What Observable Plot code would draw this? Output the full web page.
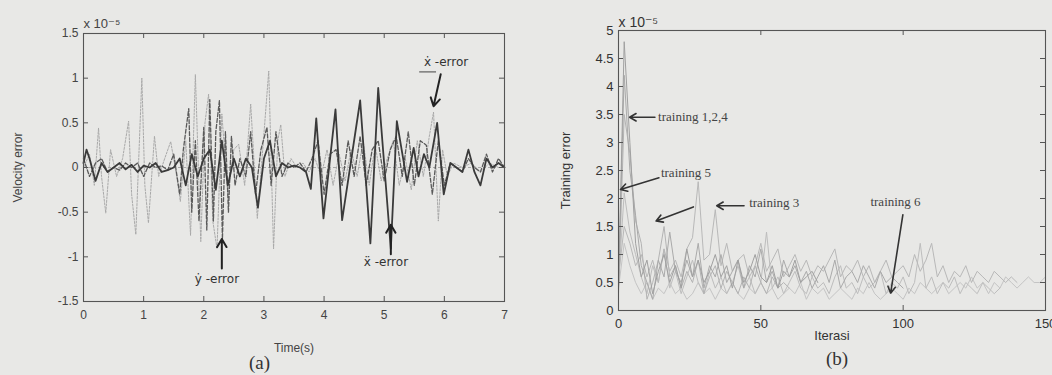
<!DOCTYPE html>
<html><head><meta charset="utf-8">
<script src="https://cdn.jsdelivr.net/npm/d3@7"></script>
<script src="https://cdn.jsdelivr.net/npm/@observablehq/plot@0.6"></script>
<style>
html,body{margin:0;padding:0;background:#e8e8e6;width:1052px;height:375px;overflow:hidden;position:relative;}
#a{position:absolute;left:0;top:0;width:530px;}
#b{position:absolute;left:520px;top:0;width:545px;}
#a svg,#b svg{max-width:none !important;}
.cap{position:absolute;font-family:"Liberation Serif","Times New Roman",serif;font-size:19px;color:#333;line-height:22px;}
</style></head><body>
<div id="a"></div><div id="b"></div>
<div class="cap" style="left:249px;top:352px">(a)</div>
<div class="cap" style="left:826px;top:348px">(b)</div>
<script>
// ---------- Panel (a) data ----------
const timeTicks = [0, 1, 2, 3, 4, 5, 6, 7];
const velTicks = [-1.5, -1, -0.5, 0, 0.5, 1, 1.5];
// x-double-dot error (dark solid)
const errXdd = [[0,0.05],[0.05,0.2],[0.1,0.1],[0.2,-0.15],[0.3,0.05],[0.4,-0.05],[0.5,0],[0.6,0.05],[0.7,-0.02],[0.8,0.03],[0.9,-0.05],[1.0,0.02],[1.1,0],[1.2,0.05],[1.3,-0.05],[1.4,-0.03],[1.5,0],[1.6,0.1],[1.7,-0.2],[1.8,0.15],[1.9,-0.1],[2.0,0.1],[2.1,0.2],[2.2,-0.25],[2.3,0.3],[2.4,-0.2],[2.5,0.1],[2.6,-0.1],[2.7,0.1],[2.8,0],[2.9,-0.45],[3.0,0.1],[3.1,0.3],[3.2,-0.1],[3.3,0.05],[3.4,0],[3.5,0.02],[3.6,0],[3.7,-0.05],[3.78,-0.24],[3.87,0.55],[3.99,-0.57],[4.19,0.65],[4.3,-0.59],[4.6,0.75],[4.77,-0.85],[4.9,0.89],[5.11,-0.91],[5.21,0.52],[5.38,-0.16],[5.49,0.22],[5.57,-0.1],[5.66,0.15],[5.75,0],[5.88,0.5],[5.99,-0.3],[6.1,0.05],[6.2,0],[6.3,-0.05],[6.4,0.2],[6.5,-0.05],[6.6,-0.2],[6.7,0.1],[6.8,0],[6.9,0.05],[7.0,0]];
// y-dot error (dark dashed)
const errYd = [[0,0.1],[0.1,-0.1],[0.2,0.05],[0.3,0.1],[0.4,-0.05],[0.5,0],[0.6,-0.03],[0.7,0.05],[0.8,0],[0.9,0.05],[1.0,-0.1],[1.1,0.05],[1.2,0],[1.3,0.02],[1.4,-0.03],[1.5,0.15],[1.6,-0.3],[1.66,0.2],[1.75,0.66],[1.8,-0.5],[1.86,0.3],[1.92,-0.6],[2.0,0.45],[2.05,-0.7],[2.1,0.76],[2.16,-0.6],[2.2,0.4],[2.26,0.75],[2.31,-0.8],[2.36,0.4],[2.41,-0.5],[2.46,0.35],[2.52,-0.2],[2.6,0.1],[2.7,-0.1],[2.78,0.4],[2.86,-0.3],[2.95,0.2],[3.05,0.45],[3.12,-0.2],[3.2,0.4],[3.3,-0.1],[3.4,0.05],[3.5,0],[3.6,0.05],[3.7,-0.05],[3.8,0.1],[3.9,0.3],[4.0,-0.3],[4.1,0.15],[4.2,0.2],[4.3,-0.2],[4.4,0.3],[4.5,-0.1],[4.6,0.35],[4.7,-0.2],[4.8,0.2],[4.9,0.3],[5.0,-0.15],[5.1,0.2],[5.2,0.35],[5.3,-0.1],[5.4,0.4],[5.5,-0.2],[5.6,0.3],[5.7,0.25],[5.8,-0.3],[5.9,0.3],[6.0,-0.2],[6.1,0.05],[6.2,0],[6.3,-0.05],[6.4,0.1],[6.5,0],[6.6,-0.05],[6.7,0.15],[6.8,-0.05],[6.9,0.1],[7.0,0]];
// x-dot error (light dashed)
const errXd = [[0,0],[0.1,0.15],[0.18,-0.2],[0.25,0.44],[0.3,-0.1],[0.37,-0.51],[0.45,0.2],[0.55,-0.1],[0.65,0.1],[0.75,0.52],[0.8,-0.3],[0.87,-0.75],[0.97,1.0],[1.02,-0.2],[1.08,-0.62],[1.18,0.35],[1.25,-0.1],[1.35,0.1],[1.45,0.29],[1.55,-0.1],[1.61,-0.38],[1.7,0.3],[1.78,-0.76],[1.86,1.04],[1.95,-0.83],[2.02,0.5],[2.08,0.82],[2.15,-0.6],[2.22,-0.91],[2.3,0.6],[2.4,-0.3],[2.5,0.2],[2.58,0.26],[2.68,-0.2],[2.78,0.71],[2.89,-0.57],[2.98,0.2],[3.08,1.08],[3.16,-0.91],[3.23,0.3],[3.28,0.48],[3.35,-0.1],[3.45,0.1],[3.55,0],[3.65,0.05],[3.75,-0.05],[3.85,0.1],[3.95,-0.1],[4.05,0.2],[4.15,-0.2],[4.25,0.15],[4.35,-0.15],[4.45,0.2],[4.55,-0.1],[4.65,0.3],[4.75,-0.2],[4.85,0.25],[4.95,-0.15],[5.05,0.1],[5.15,0.3],[5.25,-0.2],[5.35,0.1],[5.45,-0.25],[5.55,0.3],[5.65,-0.1],[5.75,0.35],[5.82,0.62],[5.9,-0.6],[5.97,0.2],[6.05,-0.1],[6.15,0.05],[6.3,0],[6.45,0.05],[6.6,-0.05],[6.75,0.05],[6.9,0],[7.0,0]];
const labelsA = [
  {x: 5.66, y: 1.18, text: "ẋ -error"},
  {x: 4.66, y: -1.06, text: "ẍ -error"},
  {x: 1.85, y: -1.25, text: "ẏ -error"}
];
const arrowsA = [
  {x1: 5.94, y1: 1.045, x2: 5.82, y2: 0.685},
  {x1: 5.11, y1: -0.97, x2: 5.11, y2: -0.64},
  {x1: 2.30, y1: -1.13, x2: 2.30, y2: -0.80}
];
const underlineA = [{x1: 5.59, x2: 5.87, y: 1.07}];

// ---------- Panel (b) data ----------
const iterTicks = [0, 50, 100, 150];
const trainTicks = [0, 0.5, 1, 1.5, 2, 2.5, 3, 3.5, 4, 4.5, 5];
const iterStep = 2;
const train1 = [0.4,4.8,3.0,1.2,0.6,0.9,0.3,0.7,1.0,0.5,0.8,0.4,1.1,0.6,0.9,0.5,0.7,1.0,0.6,0.8,0.4,0.9,0.5,0.7,1.0,0.6,0.5,0.8,0.4,0.7,0.6,0.9,0.5,0.6,0.7,0.5];
const train2 = [0.5,4.2,2.5,1.7,0.8,0.5,0.2,0.9,0.6,1.4,0.7,0.5,0.9,0.6,1.2,0.4,0.8,0.6,1.0,0.5,0.7,0.9,0.4,0.8,0.6,1.1,0.5,0.7,0.4,0.9,0.6,0.8,0.5,0.7,0.4,0.6,0.8,0.5,0.9,0.4,0.6,0.7,0.5,0.8,0.6,0.4,0.7,0.5,0.6,0.5,0.4];
const train3 = [0.6,1.5,1.2,0.8,1.0,0.6,0.9,0.5,1.1,0.7,0.9,0.6,1.1,1.3,2.3,0.9,1.0,1.8,0.8,1.2,0.7,0.9,1.0,0.6,0.8,1.2,0.7,0.9,1.1,0.6,0.8,1.0,0.7,0.9,0.6,0.8,0.7,0.9,1.1,0.6,0.8,0.7,0.9,0.6,0.8,0.5,0.7,0.9,0.6,0.7,0.8,0.6,1.0,0.7,0.9,1.2,0.6,0.8,0.5,0.7,0.6,0.8,0.5,0.7,0.6,0.5,0.7,0.6,0.5,0.6,0.5];
const train4 = [0.3,3.5,2.8,1.6,1.2,0.2,0.5,0.9,1.5,0.6,0.8,0.4,0.7,0.5,0.9,0.3,0.6,0.8,0.4,0.7,0.5,0.3,0.6,0.4,0.8,0.5,0.3,0.6,0.4,0.5,0.4];
const train5 = [0.5,2.1,1.4,1.0,0.6,0.3,0.8,0.5,1.1,0.4,0.7,0.3,0.6,0.9,0.5,0.3,0.7,0.4,0.6,0.3,0.5,0.8,0.4,0.6,0.3,0.5,1.4,0.4,0.6,0.3,0.5,0.7,0.4,0.3,0.6,0.4,0.5,0.3,0.6,0.8,0.4,0.5,0.3,0.6,0.4,0.5,0.7,0.3,0.5,0.4,0.6,0.3,0.5,1.2,0.4,0.6,0.3,0.5,0.4,0.6,0.3,0.5,0.4,0.3,0.5,0.4,0.3,0.4];
const train6 = [0.4,1.2,0.8,0.5,0.3,0.5,0.2,0.4,0.3,0.5,0.3,0.4,0.2,0.3,0.5,0.3,0.4,0.2,0.4,0.3,0.5,0.3,0.2,0.4,0.3,0.5,0.3,0.4,0.2,0.3,0.4,0.3,0.5,0.2,0.4,0.3,0.4,0.2,0.3,0.4,0.3,0.2,0.4,0.3,0.5,0.3,0.2,0.3,0.4,0.3,0.2,0.4,0.3,0.5,0.4,0.3,0.4,0.5,0.3,0.4,0.5,0.4,0.6,0.4,0.5,0.3,0.5,0.4,0.6,0.5,0.4,0.5,0.6,0.5,0.5,0.6];
const labelsB = [
  {x: 13.9, y: 3.45, text: "training 1,2,4"},
  {x: 14.9, y: 2.46, text: "training 5"},
  {x: 45.9, y: 1.92, text: "training 3"},
  {x: 88.5, y: 1.94, text: "training 6"}
];
const arrowsB = [
  {x1: 12.8, y1: 3.45, x2: 3.9, y2: 3.45},
  {x1: 14.2, y1: 2.37, x2: 0.7, y2: 2.16},
  {x1: 26.3, y1: 1.85, x2: 13.2, y2: 1.60},
  {x1: 44.1, y1: 1.87, x2: 34.5, y2: 1.87},
  {x1: 99.9, y1: 1.71, x2: 95.6, y2: 0.31}
];

const sans = "'Liberation Sans', Arial, 'DejaVu Sans', sans-serif";
const serif = "'Liberation Serif', 'Times New Roman', serif";

// ---------- Panel (a) ----------
{
  const W = 530, H = 362, mL = 83, mR = 26, mT = 33, mB = 61;
  const pw = W - mL - mR, ph = H - mT - mB, tl = 5;
  const pt = d => d[0], pv = d => d[1];
  const chart = Plot.plot({
    width: W, height: H, marginLeft: mL, marginRight: mR, marginTop: mT, marginBottom: mB,
    style: {background: "transparent", fontFamily: sans, color: "#444", overflow: "visible"},
    x: {domain: [0, 7]},
    y: {domain: [-1.5, 1.5]},
    marks: [
      Plot.ruleY([0], {stroke: "#999", strokeWidth: 0.8, strokeDasharray: "3,2"}),
      Plot.line(errXd, {x: pt, y: pv, stroke: "#a9a9a9", strokeWidth: 1, strokeDasharray: "2,1.5"}),
      Plot.line(errYd, {x: pt, y: pv, stroke: "#5a5a5a", strokeWidth: 1.3, strokeDasharray: "4,2"}),
      Plot.line(errXdd, {x: pt, y: pv, stroke: "#3a3a3a", strokeWidth: 1.8}),
      Plot.frame({stroke: "#555", strokeWidth: 1.1}),
      Plot.tickX(timeTicks, {x: d => d, insetTop: ph - tl, stroke: "#555"}),
      Plot.tickX(timeTicks, {x: d => d, insetBottom: ph - tl, stroke: "#555"}),
      Plot.tickY(velTicks, {y: d => d, insetRight: pw - tl, stroke: "#555"}),
      Plot.tickY(velTicks, {y: d => d, insetLeft: pw - tl, stroke: "#555"}),
      Plot.axisX(timeTicks, {tickSize: 0, tickPadding: 9, fontSize: 12, tickFormat: d => String(d),
        label: "Time(s)", labelAnchor: "center", labelOffset: 50, labelArrow: "none"}),
      Plot.axisY(velTicks, {tickSize: 0, tickPadding: 5, fontSize: 12, tickFormat: d => String(d),
        label: "Velocity error", labelAnchor: "center", labelOffset: 70, labelArrow: "none"}),
      Plot.text(["x 10⁻⁵"], {frameAnchor: "top-left", dy: -15, dx: 0, textAnchor: "start", fontSize: 13, fill: "#444"}),
      Plot.ruleY(underlineA, {x1: "x1", x2: "x2", y: "y", stroke: "#444", strokeWidth: 1}),
      Plot.arrow(arrowsA, {x1: "x1", y1: "y1", x2: "x2", y2: "y2", stroke: "#222", strokeWidth: 2, headLength: 7}),
      Plot.text(labelsA, {x: "x", y: "y", text: "text", textAnchor: "start", fontSize: 12, fill: "#333", fontFamily: "'DejaVu Sans', sans-serif"})
    ]
  });
  document.getElementById("a").append(chart);
}

// ---------- Panel (b) ----------
{
  const W = 545, H = 342, mL = 98, mR = 20, mT = 30, mB = 32;
  const pw = W - mL - mR, ph = H - mT - mB, tl = 5;
  const ix = (d, i) => i * iterStep, iv = d => d;
  const series = [
    [train6, "#c4c4c4"], [train5, "#bdbdbd"], [train4, "#b3b3b3"],
    [train3, "#b8b8b8"], [train2, "#aaaaaa"], [train1, "#a0a0a0"]
  ];
  const chart = Plot.plot({
    width: W, height: H, marginLeft: mL, marginRight: mR, marginTop: mT, marginBottom: mB,
    style: {background: "transparent", fontFamily: sans, color: "#333", overflow: "visible"},
    x: {domain: [0, 150]},
    y: {domain: [0, 5]},
    marks: [
      ...series.map(([s, c]) => Plot.line(s, {x: ix, y: iv, stroke: c, strokeWidth: 1})),
      Plot.frame({stroke: "#555", strokeWidth: 1.1}),
      Plot.tickX(iterTicks, {x: d => d, insetTop: ph - tl, stroke: "#555"}),
      Plot.tickX(iterTicks, {x: d => d, insetBottom: ph - tl, stroke: "#555"}),
      Plot.tickY(trainTicks, {y: d => d, insetRight: pw - tl, stroke: "#555"}),
      Plot.tickY(trainTicks, {y: d => d, insetLeft: pw - tl, stroke: "#555"}),
      Plot.axisX(iterTicks, {tickSize: 0, tickPadding: 8, fontSize: 13, tickFormat: d => String(d),
        label: "Iterasi", labelAnchor: "center", labelOffset: 29, labelArrow: "none"}),
      Plot.axisY(trainTicks, {tickSize: 0, tickPadding: 5, fontSize: 13, tickFormat: d => String(d),
        label: "Training error", labelAnchor: "center", labelOffset: 58, labelArrow: "none"}),
      Plot.text(["x 10⁻⁵"], {frameAnchor: "top-left", dy: -13, textAnchor: "start", fontSize: 14, fill: "#333"}),
      Plot.arrow(arrowsB, {x1: "x1", y1: "y1", x2: "x2", y2: "y2", stroke: "#333", strokeWidth: 1.6, headLength: 7}),
      Plot.text(labelsB, {x: "x", y: "y", text: "text", textAnchor: "start", fontSize: 13, fill: "#444", fontFamily: serif})
    ]
  });
  document.getElementById("b").append(chart);
}
</script></body></html>
